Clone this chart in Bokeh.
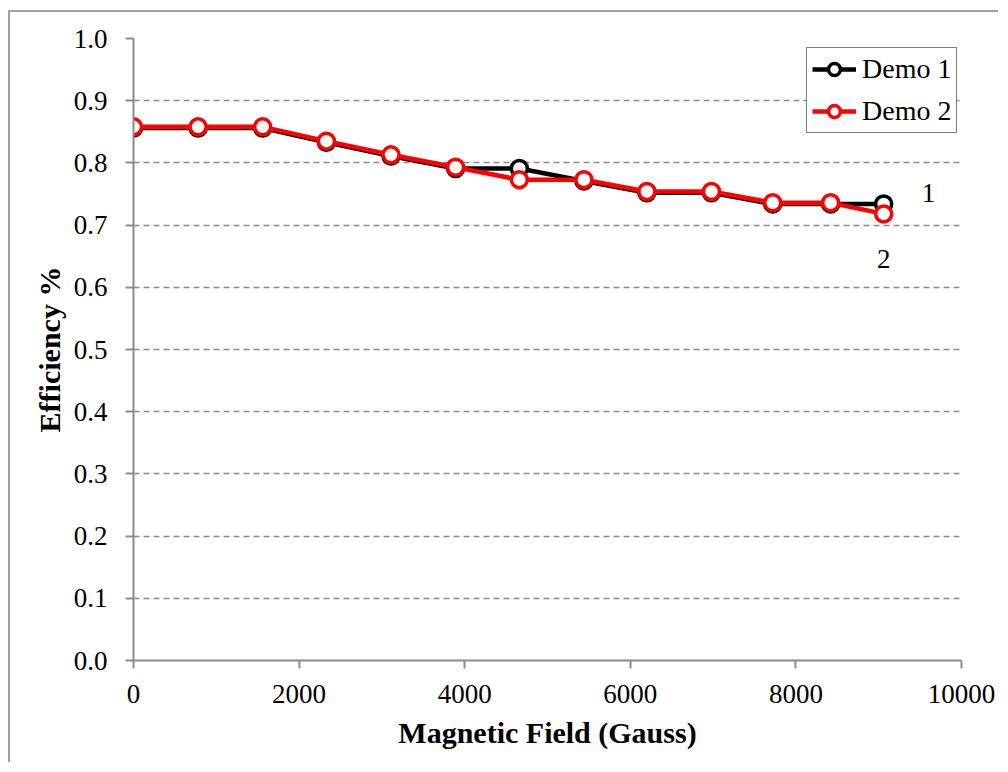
from bokeh.plotting import figure
from bokeh.models import Range1d, FixedTicker, Legend, LegendItem, Label, NumeralTickFormatter
from bokeh.embed import file_html
from bokeh.resources import INLINE

gauss = [0, 780, 1560, 2330, 3110, 3890, 4660, 5440, 6200, 6980, 7720, 8420, 9060]
demo1 = [0.856, 0.856, 0.856, 0.833, 0.811, 0.791, 0.791, 0.771, 0.752, 0.752, 0.734, 0.734, 0.734]
demo2 = [0.858, 0.858, 0.858, 0.835, 0.813, 0.793, 0.773, 0.773, 0.754, 0.754, 0.736, 0.736, 0.718]
series_names = ["Demo 1", "Demo 2"]
series_colors = ["black", "red"]
end_labels = ["1", "2"]
end_label_x = [9600, 9060]
end_label_y = [0.751, 0.645]
x_ticks = [0, 2000, 4000, 6000, 8000, 10000]
y_ticks = [0.0, 0.1, 0.2, 0.3, 0.4, 0.5, 0.6, 0.7, 0.8, 0.9, 1.0]

FONT = "Liberation Serif"
GRAY = "#8c8c8c"

p = figure(width=990, height=752, output_backend="svg", toolbar_location=None,
           x_range=Range1d(0, 10000), y_range=Range1d(0, 1.0),
           min_border_left=123, min_border_right=39, min_border_top=26, min_border_bottom=104)
p.styles = {"border-left": "2px solid #a0a0a0", "border-top": "2px solid #a0a0a0",
            "margin-top": "10px", "margin-left": "8px"}
p.outline_line_color = None
p.background_fill_color = "white"

# axes
p.xaxis.ticker = FixedTicker(ticks=x_ticks)
p.yaxis.ticker = FixedTicker(ticks=y_ticks)
p.yaxis.formatter = NumeralTickFormatter(format="0.0")
for ax in (p.xaxis[0], p.yaxis[0]):
    ax.axis_line_color = GRAY
    ax.axis_line_width = 2
    ax.major_tick_line_color = GRAY
    ax.major_tick_line_width = 2
    ax.major_tick_out = 8
    ax.major_tick_in = 0
    ax.minor_tick_line_color = None
    ax.major_label_text_font = FONT
    ax.major_label_text_font_size = "27px"
    ax.major_label_text_color = "black"
    ax.axis_label_text_font = FONT
    ax.axis_label_text_font_size = "30px"
    ax.axis_label_text_font_style = "bold"
    ax.axis_label_text_color = "black"
p.xaxis.axis_label = "Magnetic Field (Gauss)"
p.yaxis.axis_label = "Efficiency %"
p.xaxis.major_label_standoff = 16
p.yaxis.major_label_standoff = 18
p.xaxis.axis_label_standoff = 10
p.yaxis.axis_label_standoff = 5

p.xgrid.grid_line_color = None
p.ygrid.grid_line_color = GRAY
p.ygrid.grid_line_width = 1.5
p.ygrid.grid_line_dash = "6 4"

items = []
for vals, name, col in zip([demo1, demo2], series_names, series_colors):
    ln = p.line(gauss, vals, line_color=col, line_width=4.5)
    sc = p.scatter(gauss, vals, size=16, marker="circle", fill_color="white",
                   line_color=col, line_width=3.5)
    items.append(LegendItem(label=name, renderers=[ln, sc]))

for t, x, y in zip(end_labels, end_label_x, end_label_y):
    p.add_layout(Label(x=x, y=y, text=t, text_font=FONT, text_font_size="27px",
                       text_align="center", text_baseline="middle", text_color="black"))

legend = Legend(items=items, location=(673, 527))
legend.label_text_font = FONT
legend.label_text_font_size = "28px"
legend.label_text_color = "black"
legend.border_line_color = "black"
legend.border_line_width = 1.5
legend.background_fill_color = "white"
legend.background_fill_alpha = 1
legend.glyph_width = 44
legend.glyph_height = 30
legend.label_standoff = 6
legend.label_height = 30
legend.spacing = 10
legend.padding = 5
legend.margin = 0
p.add_layout(legend)

open("out.html", "w").write(file_html(p, INLINE))
